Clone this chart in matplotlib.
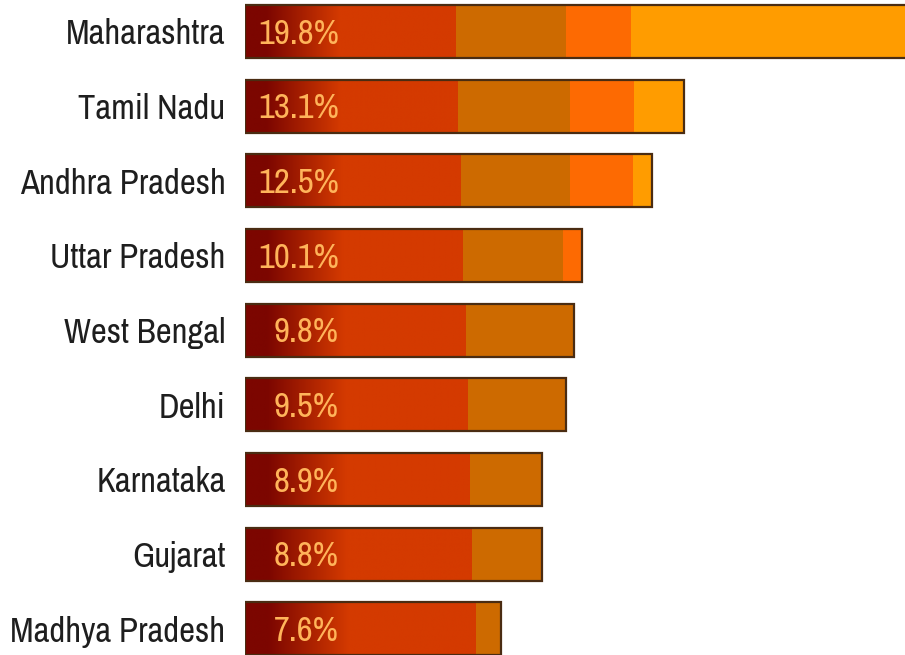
import matplotlib
matplotlib.use("Agg")
import matplotlib.pyplot as plt
import numpy as np
from matplotlib.colors import LinearSegmentedColormap

states = ["Maharashtra", "Tamil Nadu", "Andhra Pradesh", "Uttar Pradesh",
          "West Bengal", "Delhi", "Karnataka", "Gujarat", "Madhya Pradesh"]
share_labels = ["19.8%", "13.1%", "12.5%", "10.1%", "9.8%", "9.5%", "8.9%", "8.8%", "7.6%"]

# stacked segment values
seg_red = [6.28, 6.35, 6.42, 6.48, 6.57, 6.63, 6.69, 6.77, 6.87]
seg_brown = [3.30, 3.35, 3.28, 3.01, 3.25, 2.96, 2.17, 2.09, 0.77]
seg_orange = [1.94, 1.91, 1.87, 0.56, 0.0, 0.0, 0.0, 0.0, 0.0]
seg_light = [8.28, 1.49, 0.57, 0.0, 0.0, 0.0, 0.0, 0.0, 0.0]

plt.rcParams['font.family'] = ['Archivo Narrow', 'Roboto Condensed', 'DejaVu Sans']

fig = plt.figure(figsize=(9.05, 6.55), dpi=100)
ax = fig.add_axes([245 / 905, 0, 660 / 905, 1])

y = np.arange(len(states))
h = 0.71
red = np.array(seg_red)
brown = np.array(seg_brown)
orange = np.array(seg_orange)
light = np.array(seg_light)

c_dark = "#7c0600"
c_red = "#d43a00"
c_brown = "#cd6a00"
c_orange = "#fd6a02"
c_light = "#ff9c00"

ax.barh(y, red, height=h, color=c_red, linewidth=0)
ax.barh(y, brown, left=red, height=h, color=c_brown, linewidth=0)
ax.barh(y, orange, left=red + brown, height=h, color=c_orange, linewidth=0)
ax.barh(y, light, left=red + brown + orange, height=h, color=c_light, linewidth=0)

# dark-to-red shading at the start of each bar
cmap = LinearSegmentedColormap.from_list("shade", [(0, c_dark), (0.1, c_dark), (0.45, c_red), (1.0, c_red)])
grad = np.linspace(0, 1, 256).reshape(1, -1)
for i in range(len(states)):
    ax.imshow(grad, cmap=cmap, aspect="auto", interpolation="bilinear",
              extent=(0, red[i], y[i] + h / 2, y[i] - h / 2), zorder=2)

total = red + brown + orange + light
ax.barh(y, total, height=h, fill=False, edgecolor="#4a2c12", linewidth=1.6, zorder=3)

for i in range(len(states)):
    ax.text(2.8, y[i] + 0.03, share_labels[i], ha="right", va="center",
            color="#ffb45a", fontsize=25, zorder=4)

ax.set_xlim(0, 19.70)
ax.set_ylim(8.35, -0.42)
ax.set_yticks(y)
ax.set_yticklabels(states, fontsize=25, color="#1e1e1e")
ax.tick_params(axis="y", length=0, pad=14)
ax.set_xticks([])
for s in ax.spines.values():
    s.set_visible(False)

fig.savefig("out.png", dpi=100, facecolor="white")
